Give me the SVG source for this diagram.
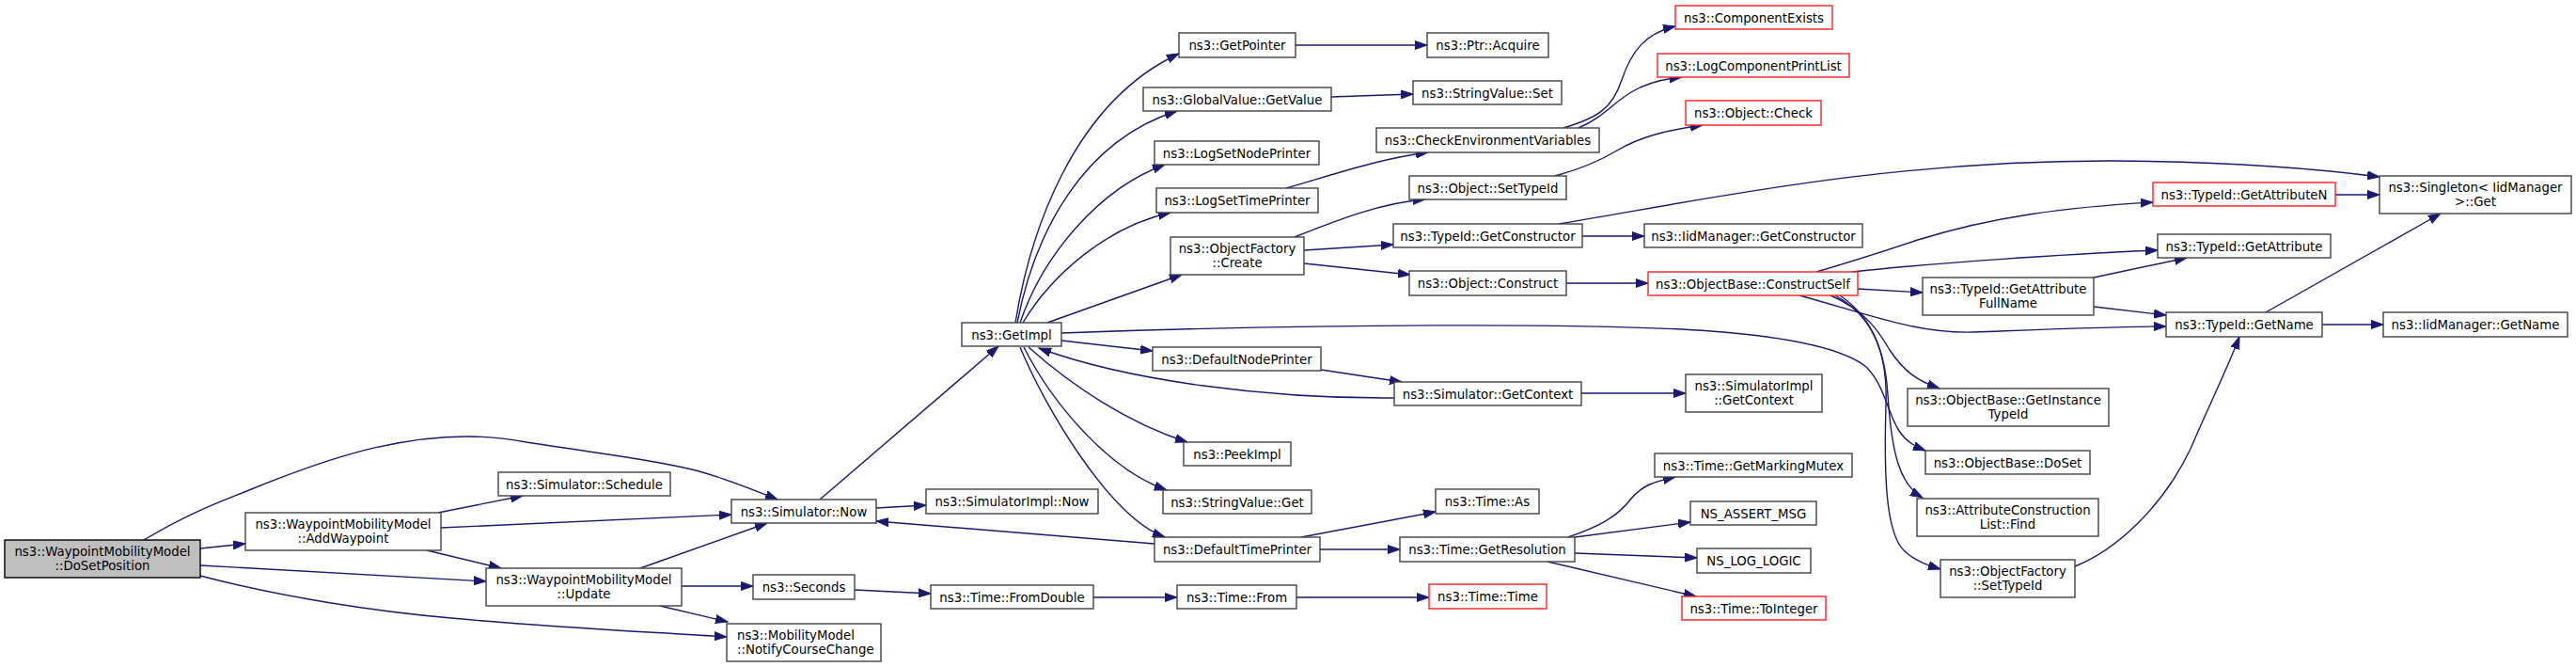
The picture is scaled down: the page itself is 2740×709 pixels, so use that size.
<svg xmlns="http://www.w3.org/2000/svg" width="2740" height="709" viewBox="0 0 2740 709">
<defs>
<marker id="arr" markerWidth="14" markerHeight="10" refX="13" refY="5" orient="auto" markerUnits="userSpaceOnUse">
<path d="M0,0.5 L13,5 L0,9.5 z" fill="#191970" stroke="#191970" stroke-width="1"/>
</marker>
<style>
.node rect{fill:#ffffff;stroke:#404040;stroke-width:1.4}
.node.root rect{fill:#bfbfbf;stroke:#000000}
.node.red rect{stroke:#ff2020}
.node text{font-family:"DejaVu Sans","Liberation Sans",sans-serif;font-size:13.3px;fill:#000000;text-anchor:middle}
.node text.l{text-anchor:start}
#edges path{fill:none;stroke:#191970;stroke-width:1.4;marker-end:url(#arr)}
</style>
</defs>
<rect x="0" y="0" width="2740" height="709" fill="#ffffff"/>
<g id="edges">
<path d="M153,574 C200,546 230,535 260,523 C340,490 450,448 560,470 C640,482 700,490 740,500 C770,508 800,520 827,531"/>
<path d="M213,583 L261,578"/>
<path d="M213,601 L517,618"/>
<path d="M213,612 C300,635 400,650 480,657 C600,668 700,672 773,677"/>
<path d="M466,545 L556,527"/>
<path d="M469,561 L778,547"/>
<path d="M454,585 L533,604"/>
<path d="M681,604 L816,556"/>
<path d="M725,623 L801,623"/>
<path d="M702,644 L774,661"/>
<path d="M872,531 L1062,368"/>
<path d="M932,540 L985,537"/>
<path d="M1228,578 L932,554"/>
<path d="M1080,343 C1095,250 1140,110 1254,57"/>
<path d="M1082,343 C1100,250 1150,150 1252,118"/>
<path d="M1085,343 C1110,270 1170,200 1239,175"/>
<path d="M1088,343 C1120,290 1180,240 1245,226"/>
<path d="M1114,343 L1257,292"/>
<path d="M1129,362 L1226,373"/>
<path d="M1129,354 C1400,344 1700,343 1820,352 C1900,358 1960,370 1985,390 C2005,410 2008,440 2020,458 C2028,470 2038,475 2048,479"/>
<path d="M1094,369 C1140,410 1200,450 1263,470"/>
<path d="M1089,369 C1120,430 1180,500 1241,521"/>
<path d="M1085,369 C1110,430 1180,550 1239,571"/>
<path d="M1483,423 C1350,424 1200,405 1105,370"/>
<path d="M1405,393 L1491,406"/>
<path d="M1682,418 L1793,418"/>
<path d="M1384,571 L1527,544"/>
<path d="M1404,584 L1489,584"/>
<path d="M1668,571 C1700,560 1720,550 1735,530 C1748,515 1760,512 1782,507"/>
<path d="M1675,571 L1798,555"/>
<path d="M1675,588 L1805,593"/>
<path d="M1646,597 L1804,634"/>
<path d="M909,627 L990,631"/>
<path d="M1163,635 L1252,635"/>
<path d="M1379,635 L1520,635"/>
<path d="M1378,48 L1518,48"/>
<path d="M1416,103 L1503,100"/>
<path d="M1368,200 C1420,185 1470,168 1519,162"/>
<path d="M1663,136 C1700,125 1715,115 1725,85 C1735,55 1750,35 1782,28"/>
<path d="M1679,136 C1705,125 1715,110 1735,98 C1752,88 1768,84 1789,82"/>
<path d="M1654,187 C1680,180 1700,172 1720,160 C1745,145 1775,138 1811,133"/>
<path d="M1377,252 C1420,235 1470,215 1516,212"/>
<path d="M1387,266 L1482,260"/>
<path d="M1387,280 L1500,292"/>
<path d="M1658,238 C1800,215 2000,170 2250,171 C2380,172 2470,180 2531,188"/>
<path d="M1683,251 L1749,251"/>
<path d="M1666,301 L1753,301"/>
<path d="M1932,289 C1980,275 2010,265 2040,255 C2120,230 2200,220 2290,215"/>
<path d="M1970,289 C2050,280 2200,270 2295,266"/>
<path d="M1976,307 L2045,311"/>
<path d="M1914,314 C1990,335 2040,355 2100,353 C2180,350 2250,347 2304,347"/>
<path d="M2227,295 L2326,274"/>
<path d="M2227,326 L2304,335"/>
<path d="M2484,207 L2531,207"/>
<path d="M2410,332 L2596,227"/>
<path d="M2470,345 L2535,345"/>
<path d="M2207,602 C2250,585 2300,540 2330,477 C2350,430 2370,390 2382,358"/>
<path d="M1947,314 C1985,330 2000,355 2010,372 C2025,395 2040,405 2063,413"/>
<path d="M1952,314 C1990,335 2005,370 2008,420 C2012,480 2020,515 2045,529"/>
<path d="M1957,314 C1995,340 2008,380 2006,430 C2004,500 2005,565 2025,585 C2035,595 2048,600 2064,605"/>
</g>
<g id="n0" class="node root"><rect x="5" y="574" width="208" height="40"/><text x="109" y="591">ns3::WaypointMobilityModel</text><text x="109" y="606">::DoSetPosition</text></g>
<g id="n1" class="node"><rect x="261" y="545" width="208" height="40"/><text x="365" y="562">ns3::WaypointMobilityModel</text><text x="365" y="577">::AddWaypoint</text></g>
<g id="n2" class="node"><rect x="530" y="502" width="183" height="25"/><text x="621.5" y="519.5">ns3::Simulator::Schedule</text></g>
<g id="n3" class="node"><rect x="517" y="604" width="208" height="40"/><text x="621" y="621">ns3::WaypointMobilityModel</text><text x="621" y="636">::Update</text></g>
<g id="n4" class="node"><rect x="778" y="531" width="154" height="25"/><text x="855" y="548.5">ns3::Simulator::Now</text></g>
<g id="n5" class="node"><rect x="985" y="520" width="183" height="26"/><text x="1076.5" y="538">ns3::SimulatorImpl::Now</text></g>
<g id="n6" class="node"><rect x="1023" y="343" width="106" height="25"/><text x="1076" y="360.5">ns3::GetImpl</text></g>
<g id="n7" class="node"><rect x="1226" y="369" width="179" height="25"/><text x="1315.5" y="386.5">ns3::DefaultNodePrinter</text></g>
<g id="n8" class="node"><rect x="1259" y="470" width="114" height="25"/><text x="1316" y="487.5">ns3::PeekImpl</text></g>
<g id="n9" class="node"><rect x="1237" y="521" width="158" height="25"/><text x="1316" y="538.5">ns3::StringValue::Get</text></g>
<g id="n10" class="node"><rect x="1228" y="571" width="176" height="26"/><text x="1316" y="589">ns3::DefaultTimePrinter</text></g>
<g id="n11" class="node"><rect x="801" y="611" width="108" height="26"/><text x="855" y="629">ns3::Seconds</text></g>
<g id="n12" class="node"><rect x="990" y="622" width="173" height="25"/><text x="1076.5" y="639.5">ns3::Time::FromDouble</text></g>
<g id="n13" class="node"><rect x="1252" y="622" width="127" height="25"/><text x="1315.5" y="639.5">ns3::Time::From</text></g>
<g id="n14" class="node"><rect x="773" y="663" width="164" height="40"/><text class="l" x="784" y="680">ns3::MobilityModel</text><text class="l" x="784" y="695">::NotifyCourseChange</text></g>
<g id="n15" class="node"><rect x="1254" y="35" width="124" height="26"/><text x="1316" y="53">ns3::GetPointer</text></g>
<g id="n16" class="node"><rect x="1518" y="35" width="129" height="26"/><text x="1582.5" y="53">ns3::Ptr::Acquire</text></g>
<g id="n17" class="node"><rect x="1216" y="93" width="200" height="25"/><text x="1316" y="110.5">ns3::GlobalValue::GetValue</text></g>
<g id="n18" class="node"><rect x="1503" y="86" width="158" height="25"/><text x="1582" y="103.5">ns3::StringValue::Set</text></g>
<g id="n19" class="node"><rect x="1228" y="150" width="175" height="25"/><text x="1315.5" y="167.5">ns3::LogSetNodePrinter</text></g>
<g id="n20" class="node"><rect x="1464" y="136" width="237" height="26"/><text x="1582.5" y="154">ns3::CheckEnvironmentVariables</text></g>
<g id="n21" class="node"><rect x="1230" y="200" width="172" height="26"/><text x="1316" y="218">ns3::LogSetTimePrinter</text></g>
<g id="n22" class="node"><rect x="1499" y="187" width="167" height="25"/><text x="1582.5" y="204.5">ns3::Object::SetTypeId</text></g>
<g id="n23" class="node"><rect x="1245" y="252" width="142" height="40"/><text x="1316" y="269">ns3::ObjectFactory</text><text x="1316" y="284">::Create</text></g>
<g id="n24" class="node"><rect x="1482" y="238" width="201" height="25"/><text x="1582.5" y="255.5">ns3::TypeId::GetConstructor</text></g>
<g id="n25" class="node"><rect x="1499" y="288" width="167" height="26"/><text x="1582.5" y="306">ns3::Object::Construct</text></g>
<g id="n26" class="node"><rect x="1483" y="406" width="199" height="25"/><text x="1582.5" y="423.5">ns3::Simulator::GetContext</text></g>
<g id="n27" class="node"><rect x="1793" y="398" width="145" height="40"/><text x="1865.5" y="415">ns3::SimulatorImpl</text><text x="1865.5" y="430">::GetContext</text></g>
<g id="n28" class="node"><rect x="1760" y="482" width="210" height="25"/><text x="1865" y="499.5">ns3::Time::GetMarkingMutex</text></g>
<g id="n29" class="node"><rect x="1798" y="533" width="134" height="25"/><text x="1865" y="550.5">NS_ASSERT_MSG</text></g>
<g id="n30" class="node"><rect x="1805" y="583" width="121" height="26"/><text x="1865.5" y="601">NS_LOG_LOGIC</text></g>
<g id="n31" class="node red"><rect x="1789" y="634" width="153" height="25"/><text x="1865.5" y="651.5">ns3::Time::ToInteger</text></g>
<g id="n32" class="node"><rect x="1527" y="520" width="110" height="26"/><text x="1582" y="538">ns3::Time::As</text></g>
<g id="n33" class="node"><rect x="1489" y="571" width="186" height="26"/><text x="1582" y="589">ns3::Time::GetResolution</text></g>
<g id="n34" class="node red"><rect x="1520" y="621" width="125" height="26"/><text x="1582.5" y="639">ns3::Time::Time</text></g>
<g id="n35" class="node red"><rect x="1782" y="6" width="167" height="25"/><text x="1865.5" y="23.5">ns3::ComponentExists</text></g>
<g id="n36" class="node red"><rect x="1763" y="57" width="204" height="25"/><text x="1865" y="74.5">ns3::LogComponentPrintList</text></g>
<g id="n37" class="node red"><rect x="1793" y="107" width="144" height="26"/><text x="1865" y="125">ns3::Object::Check</text></g>
<g id="n38" class="node"><rect x="1749" y="238" width="232" height="25"/><text x="1865" y="255.5">ns3::IidManager::GetConstructor</text></g>
<g id="n39" class="node red"><rect x="1753" y="289" width="223" height="25"/><text x="1864.5" y="306.5">ns3::ObjectBase::ConstructSelf</text></g>
<g id="n40" class="node"><rect x="2045" y="295" width="182" height="40"/><text x="2136" y="312">ns3::TypeId::GetAttribute</text><text x="2136" y="327">FullName</text></g>
<g id="n41" class="node red"><rect x="2290" y="194" width="194" height="25"/><text x="2387" y="211.5">ns3::TypeId::GetAttributeN</text></g>
<g id="n42" class="node"><rect x="2531" y="187" width="204" height="40"/><text x="2633" y="204">ns3::Singleton&lt; IidManager</text><text x="2633" y="219">&gt;::Get</text></g>
<g id="n43" class="node"><rect x="2295" y="249" width="184" height="25"/><text x="2387" y="266.5">ns3::TypeId::GetAttribute</text></g>
<g id="n44" class="node"><rect x="2304" y="332" width="166" height="26"/><text x="2387" y="350">ns3::TypeId::GetName</text></g>
<g id="n45" class="node"><rect x="2535" y="332" width="196" height="26"/><text x="2633" y="350">ns3::IidManager::GetName</text></g>
<g id="n46" class="node"><rect x="2029" y="413" width="214" height="40"/><text x="2136" y="430">ns3::ObjectBase::GetInstance</text><text x="2136" y="445">TypeId</text></g>
<g id="n47" class="node"><rect x="2048" y="479" width="175" height="25"/><text x="2135.5" y="496.5">ns3::ObjectBase::DoSet</text></g>
<g id="n48" class="node"><rect x="2039" y="530" width="193" height="40"/><text x="2135.5" y="547">ns3::AttributeConstruction</text><text x="2135.5" y="562">List::Find</text></g>
<g id="n49" class="node"><rect x="2064" y="595" width="143" height="40"/><text x="2135.5" y="612">ns3::ObjectFactory</text><text x="2135.5" y="627">::SetTypeId</text></g>
</svg>
